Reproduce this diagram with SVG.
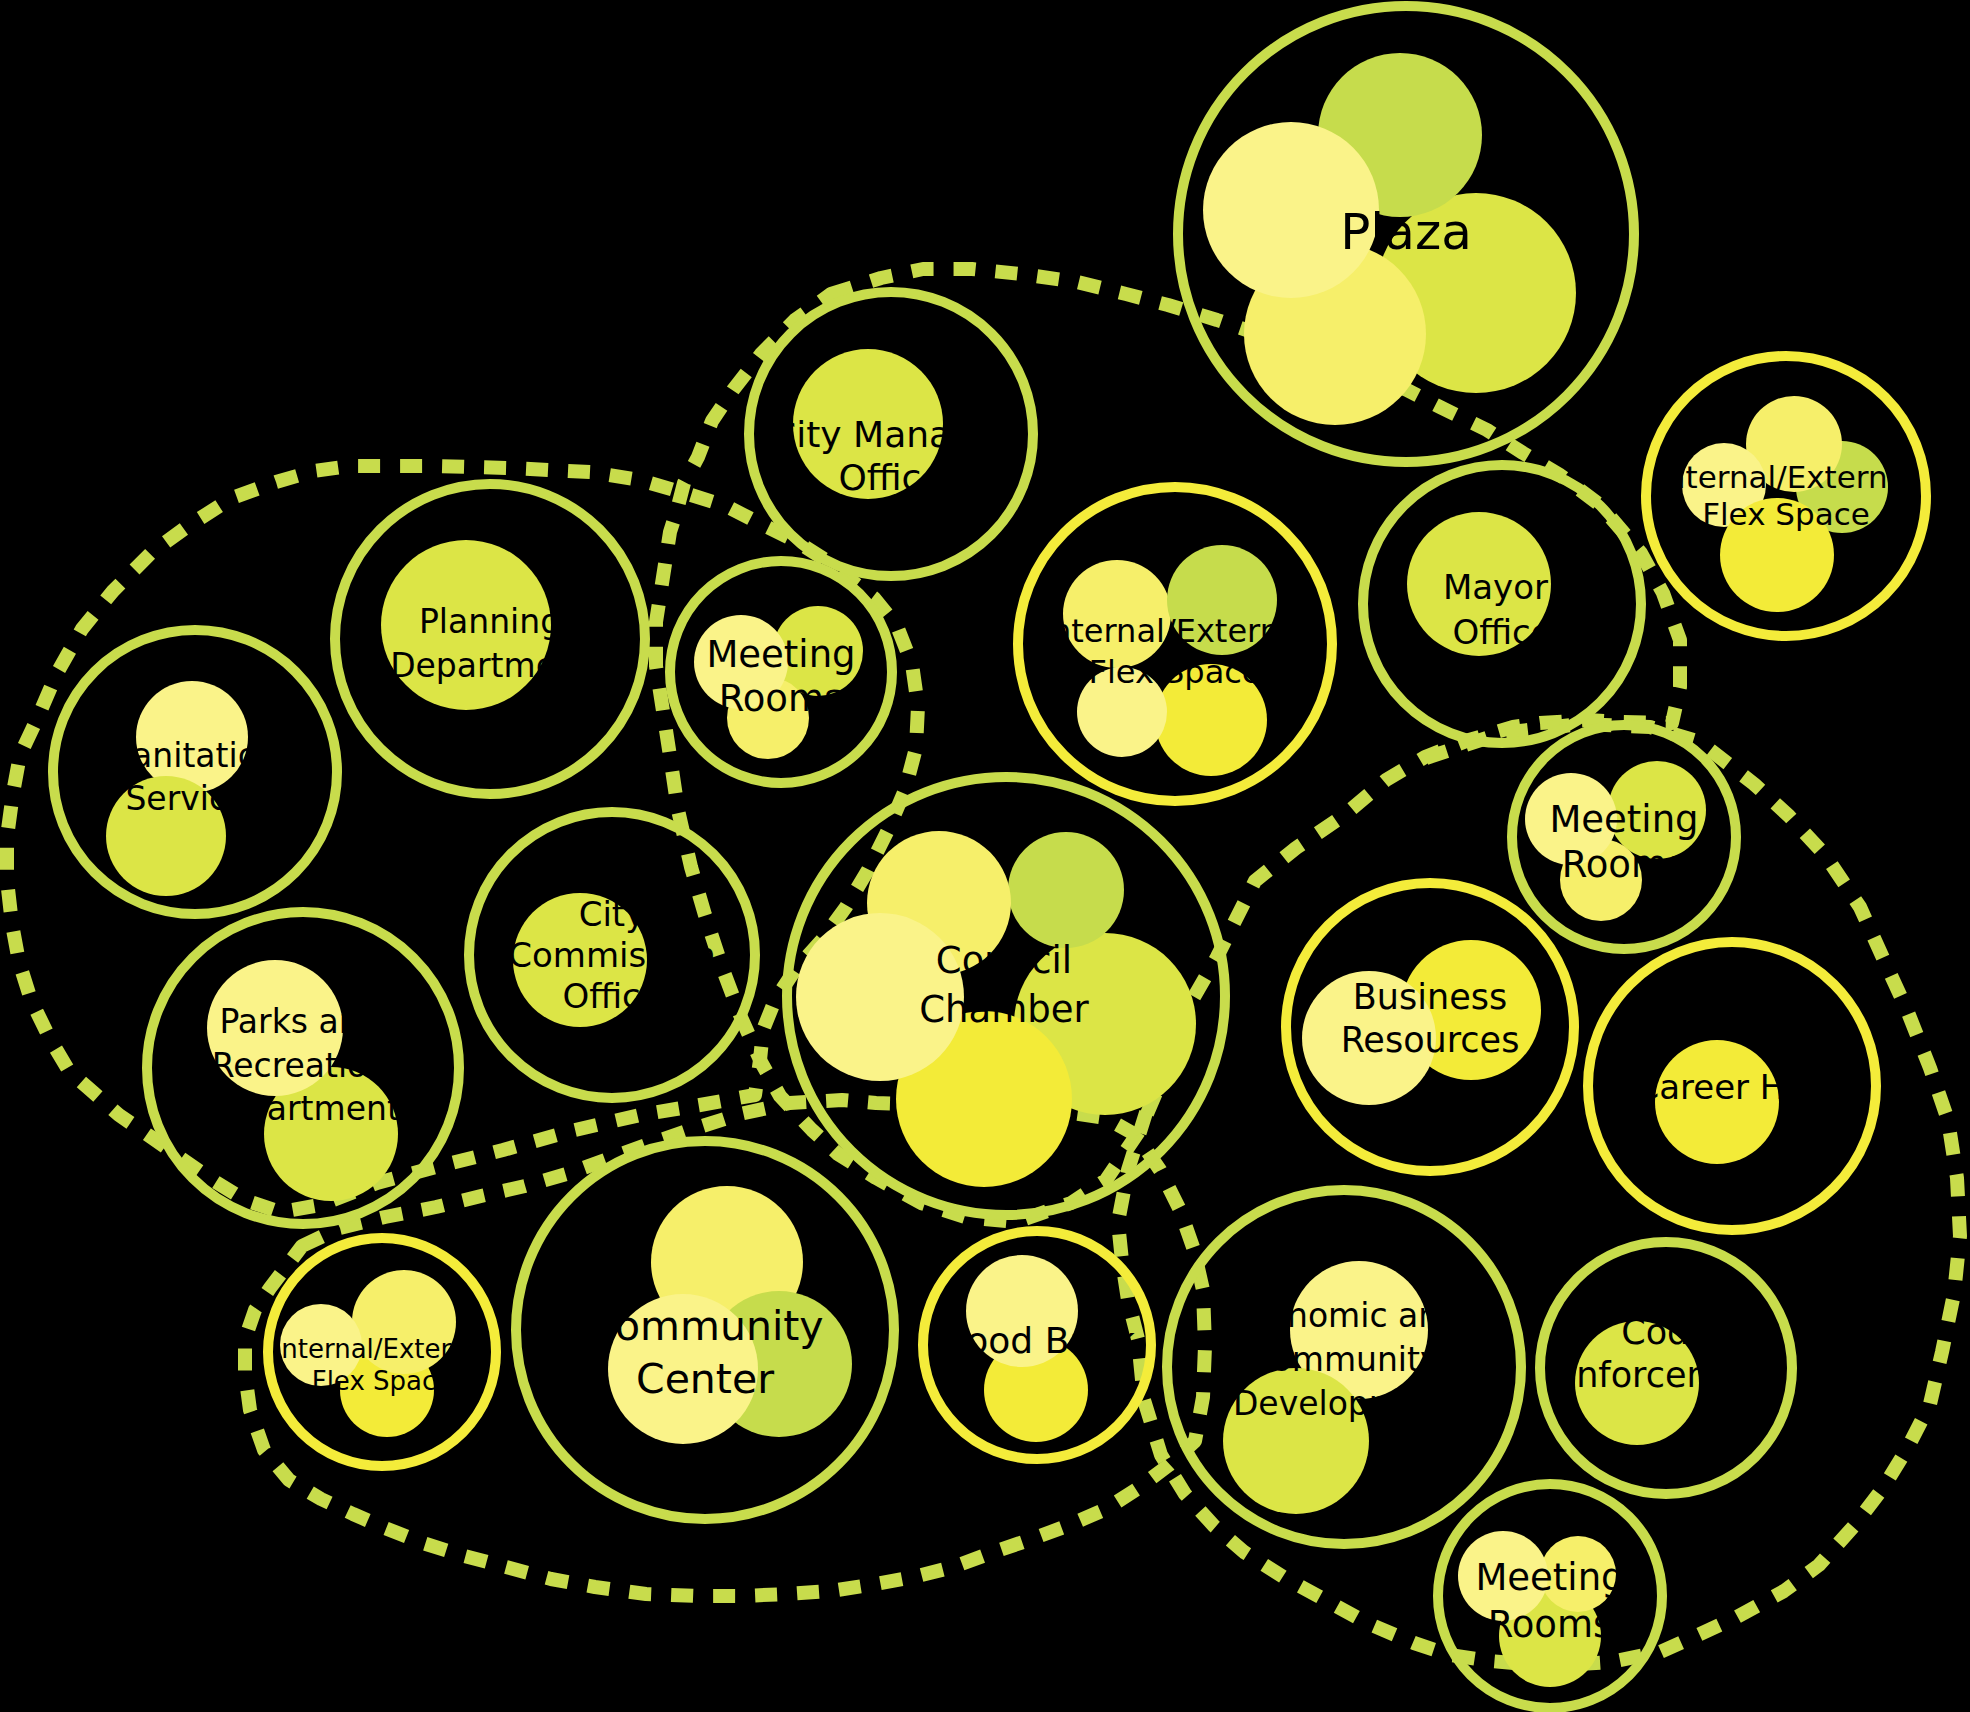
<svg xmlns="http://www.w3.org/2000/svg" width="1970" height="1712" viewBox="0 0 1970 1712">
<style>
.rg{fill:none;stroke:#c8dc4c;stroke-width:10}
.ry{fill:none;stroke:#f4ec3a;stroke-width:10}
.dash{fill:none;stroke:#c8dc4c;stroke-width:14;stroke-dasharray:22 20;stroke-linejoin:round}
.pa{fill:#faf389}.li{fill:#f6ef6a}.mi{fill:#dce546}.gr{fill:#c6dc4c}.br{fill:#f3eb38}
text{font-family:"DejaVu Sans","Noto Sans",sans-serif;fill:#000;text-anchor:middle}
</style>
<rect width="1970" height="1712" fill="#000"/>
<g id="connectors">
<path class="dash" d="M276,482 L314,471 L350,466 L430,466 L510,468 L590,472 L640,480 L691,495 L726,506 L761,524 L796,541 L824,559 L848,578 L874,598 L897,626 L912,664 L918,706 L916,748 L905,790 L888,830 L868,870 L846,907 L822,940 L795,970 L775,1000 L763,1030 L760,1060 L755,1095 L700,1105 L640,1115 L575,1130 L503,1150 L440,1166 L377,1183 L320,1205 L280,1212 L245,1200 L214,1181 L182,1159 L151,1137 L119,1115 L94,1093 L69,1071 L50,1039 L31,1000 L19,962 L12,924 L7,880 L7,837 L13,793 L20,755 L38,717 L57,673 L82,629 L113,591 L151,553 L188,526 L232,498 Z"/>
<path class="dash" d="M831,294 L881,278 L923,269 L972,269 L1021,274 L1077,282 L1126,294 L1168,305 L1217,320 L1290,345 L1360,372 L1407,390 L1440,407 L1487,430 L1523,453 L1560,475 L1600,505 L1641,553 L1663,593 L1680,640 L1680,687 L1672,723 L1620,722 L1588,720 L1540,723 L1513,727 L1469,740 L1425,757 L1386,780 L1343,816 L1296,848 L1255,881 L1217,957 L1194,997 L1170,1060 L1140,1130 L1106,1180 L1071,1203 L1016,1222 L965,1217 L921,1203 L876,1178 L838,1154 L812,1130 L780,1096 L761,1062 L740,1015 L722,967 L705,915 L691,867 L678,810 L670,756 L663,711 L656,666 L656,622 L663,577 L670,532 L677,510 L684,483 L698,457 L712,421 L733,390 L761,354 L795,320 Z"/>
<path class="dash" d="M1426,758 L1502,733 L1581,724 L1650,727 L1700,742 L1754,784 L1789,816 L1825,855 L1860,907 L1883,958 L1907,1010 L1930,1068 L1948,1120 L1957,1178 L1960,1236 L1954,1294 L1942,1352 L1930,1404 L1907,1449 L1883,1488 L1854,1526 L1819,1565 L1784,1591 L1737,1617 L1696,1636 L1660,1652 L1610,1662 L1550,1666 L1490,1661 L1450,1655 L1414,1643 L1367,1623 L1320,1597 L1285,1578 L1244,1552 L1214,1526 L1185,1494 L1161,1455 L1144,1400 L1138,1339 L1128,1300 L1122,1261 L1118,1222 L1128,1170 L1150,1100 L1170,1060"/>
<path class="dash" d="M302,1246 L340,1228 L385,1217 L436,1207 L481,1196 L525,1186 L570,1173 L608,1159 L646,1145 L690,1130 L740,1114 L790,1103 L842,1100 L876,1103 L950,1105 L1050,1110 L1106,1118 L1136,1135 L1160,1170 L1180,1210 L1194,1250 L1203,1290 L1205,1346 L1203,1397 L1195,1441 L1169,1465 L1137,1489 L1106,1509 L1067,1526 L1029,1540 L991,1553 L953,1567 L914,1577 L876,1584 L831,1591 L787,1594 L742,1596 L697,1596 L646,1594 L595,1587 L551,1579 L506,1567 L461,1555 L423,1543 L385,1528 L353,1514 L321,1499 L289,1480 L264,1450 L250,1410 L245,1373 L245,1339 L255,1310 L270,1288 Z"/>
</g>
<g id="plaza">
<circle class="rg" cx="1406" cy="234" r="228"/>
<circle class="mi" cx="1476" cy="293" r="100"/>
<circle class="li" cx="1335" cy="334" r="91"/>
<circle class="gr" cx="1400" cy="135" r="82"/>
<circle class="pa" cx="1291" cy="210" r="88"/>
<text x="1406" y="249" font-size="50">Plaza</text>
</g>
<g id="city-manager">
<circle class="rg" cx="891" cy="434" r="142"/>
<circle class="mi" cx="868" cy="424" r="75"/>
<text font-size="36"><tspan x="891" y="447">City Manager</tspan><tspan x="891" y="490">Office</tspan></text>
</g>
<g id="planning">
<circle class="rg" cx="490" cy="639" r="155"/>
<circle class="mi" cx="466" cy="625" r="85"/>
<text font-size="33"><tspan x="490" y="633">Planning</tspan><tspan x="490" y="677">Department</tspan></text>
</g>
<g id="sanitation">
<circle class="rg" cx="195" cy="772" r="142"/>
<circle class="pa" cx="192" cy="737" r="56"/>
<circle class="mi" cx="166" cy="836" r="60"/>
<text font-size="33"><tspan x="195" y="767">Sanitation</tspan><tspan x="195" y="810">Services</tspan></text>
</g>
<g id="parks">
<circle class="rg" cx="303" cy="1068" r="156"/>
<circle class="mi" cx="331" cy="1134" r="67"/>
<circle class="pa" cx="275" cy="1028" r="68"/>
<text font-size="33"><tspan x="300" y="1033">Parks and</tspan><tspan x="300" y="1077">Recreation</tspan><tspan x="300" y="1120">Department</tspan></text>
</g>
<g id="city-commission">
<circle class="rg" cx="612" cy="955" r="143"/>
<circle class="mi" cx="580" cy="960" r="67"/>
<text font-size="34"><tspan x="612" y="926">City</tspan><tspan x="612" y="967">Commission</tspan><tspan x="612" y="1008">Office</tspan></text>
</g>
<g id="meeting-rooms-1">
<circle class="rg" cx="781" cy="672" r="111"/>
<circle class="mi" cx="818" cy="651" r="45"/>
<circle class="li" cx="768" cy="718" r="41"/>
<circle class="pa" cx="741" cy="662" r="47"/>
<text font-size="37"><tspan x="781" y="667">Meeting</tspan><tspan x="781" y="711">Rooms</tspan></text>
</g>
<g id="flex-space-1">
<circle class="ry" cx="1175" cy="644" r="157"/>
<circle class="li" cx="1117" cy="614" r="54"/>
<circle class="gr" cx="1222" cy="600" r="55"/>
<circle class="br" cx="1211" cy="720" r="56"/>
<circle class="pa" cx="1122" cy="712" r="45"/>
<text font-size="32"><tspan x="1175" y="642">Internal/External</tspan><tspan x="1175" y="683">Flex Space</tspan></text>
</g>
<g id="mayor">
<circle class="rg" cx="1502" cy="604" r="139"/>
<circle class="mi" cx="1479" cy="584" r="72"/>
<text font-size="34"><tspan x="1509" y="599">Mayor's</tspan><tspan x="1502" y="644">Office</tspan></text>
</g>
<g id="flex-space-2">
<circle class="ry" cx="1786" cy="496" r="140"/>
<circle class="gr" cx="1842" cy="487" r="46"/>
<circle class="li" cx="1794" cy="444" r="48"/>
<circle class="pa" cx="1724" cy="485" r="42"/>
<circle class="br" cx="1777" cy="555" r="57"/>
<text font-size="31"><tspan x="1786" y="488">Internal/External</tspan><tspan x="1786" y="525">Flex Space</tspan></text>
</g>
<g id="council-chamber">
<circle class="rg" cx="1006" cy="996" r="219"/>
<circle class="mi" cx="1105" cy="1024" r="91"/>
<circle class="br" cx="984" cy="1099" r="88"/>
<circle class="gr" cx="1066" cy="890" r="58"/>
<circle class="li" cx="939" cy="903" r="72"/>
<circle class="pa" cx="880" cy="997" r="84"/>
<text font-size="37"><tspan x="1004" y="973">Council</tspan><tspan x="1004" y="1022">Chamber</tspan></text>
</g>
<g id="meeting-rooms-2">
<circle class="rg" cx="1624" cy="837" r="112"/>
<circle class="mi" cx="1657" cy="810" r="49"/>
<circle class="li" cx="1601" cy="880" r="41"/>
<circle class="pa" cx="1571" cy="819" r="46"/>
<text font-size="37"><tspan x="1624" y="832">Meeting</tspan><tspan x="1624" y="877">Rooms</tspan></text>
</g>
<g id="business-resources">
<circle class="ry" cx="1430" cy="1027" r="144"/>
<circle class="br" cx="1471" cy="1010" r="70"/>
<circle class="pa" cx="1369" cy="1038" r="67"/>
<text font-size="35"><tspan x="1430" y="1009">Business</tspan><tspan x="1430" y="1052">Resources</tspan></text>
</g>
<g id="career-hub">
<circle class="ry" cx="1732" cy="1086" r="144"/>
<circle class="br" cx="1717" cy="1102" r="62"/>
<text x="1732" y="1099" font-size="34">Career Hub</text>
</g>
<g id="economic-development">
<circle class="rg" cx="1344" cy="1367" r="177"/>
<circle class="pa" cx="1359" cy="1330" r="69"/>
<circle class="mi" cx="1296" cy="1441" r="73"/>
<text font-size="33"><tspan x="1344" y="1327">Economic and</tspan><tspan x="1344" y="1371">Community</tspan><tspan x="1344" y="1415">Development</tspan></text>
</g>
<g id="code-enforcement">
<circle class="rg" cx="1666" cy="1368" r="126"/>
<circle class="mi" cx="1637" cy="1383" r="62"/>
<text font-size="35"><tspan x="1666" y="1344">Code</tspan><tspan x="1666" y="1387">Enforcement</tspan></text>
</g>
<g id="meeting-rooms-3">
<circle class="rg" cx="1550" cy="1596" r="112"/>
<circle class="mi" cx="1550" cy="1636" r="51"/>
<circle class="li" cx="1578" cy="1574" r="38"/>
<circle class="pa" cx="1503" cy="1576" r="45"/>
<text font-size="37"><tspan x="1550" y="1590">Meeting</tspan><tspan x="1550" y="1637">Rooms</tspan></text>
</g>
<g id="food-bank">
<circle class="ry" cx="1037" cy="1345" r="114"/>
<circle class="br" cx="1036" cy="1390" r="52"/>
<circle class="pa" cx="1022" cy="1311" r="56"/>
<text x="1041" y="1353" font-size="36">Food Bank</text>
</g>
<g id="community-center">
<circle class="rg" cx="705" cy="1330" r="189"/>
<circle class="li" cx="727" cy="1262" r="76"/>
<circle class="gr" cx="779" cy="1364" r="73"/>
<circle class="pa" cx="683" cy="1369" r="75"/>
<text font-size="41"><tspan x="705" y="1340">Community</tspan><tspan x="705" y="1393">Center</tspan></text>
</g>
<g id="flex-space-3">
<circle class="ry" cx="382" cy="1352" r="114"/>
<circle class="br" cx="387" cy="1390" r="47"/>
<circle class="li" cx="404" cy="1322" r="52"/>
<circle class="pa" cx="321" cy="1345" r="41"/>
<text font-size="26"><tspan x="382" y="1358">Internal/External</tspan><tspan x="382" y="1390">Flex Space</tspan></text>
</g>
</svg>
